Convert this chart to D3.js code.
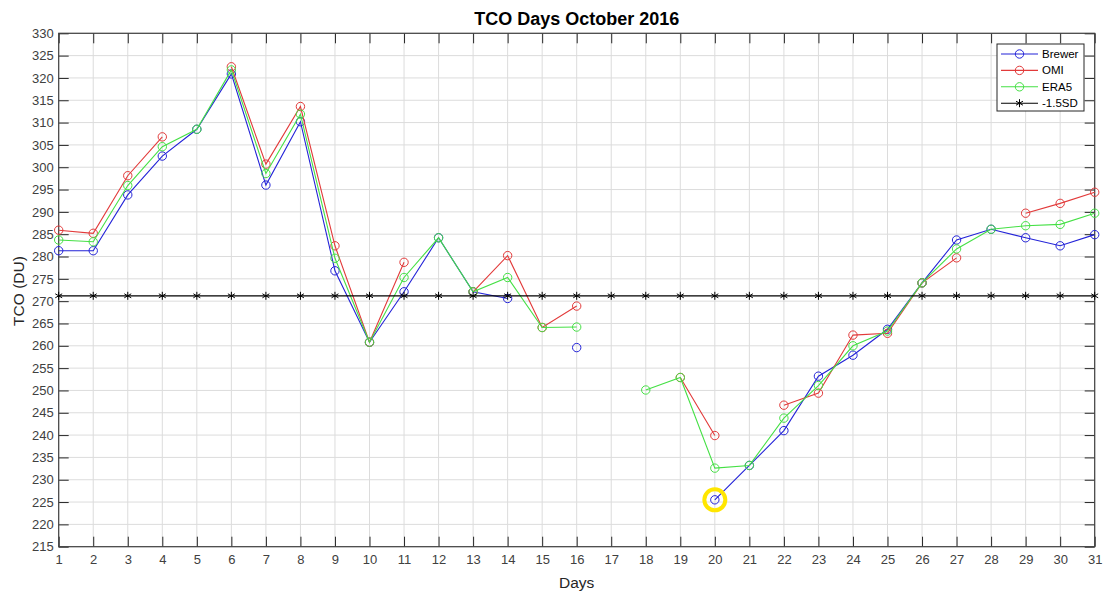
<!DOCTYPE html>
<html>
<head>
<meta charset="utf-8">
<script src="https://cdn.jsdelivr.net/npm/d3@7"></script>
<style>
  body { margin: 0; background: #fff; }
  svg text { font-family: "Liberation Sans", Arial, sans-serif; }
</style>
</head>
<body>
<script>
//Chart data (null = no measurement that day)
var days = d3.range(1, 32);
var brewer = [281.3, 281.3, 293.8, 302.5, 308.5, 320.9, 296.0, 310.2, 276.8, 260.8,
              272.1, 284.2, 272.1, 270.6, null, 259.6, null, null, null, 225.5,
              233.2, 241.0, 253.2, 257.9, 263.7, 274.1, 283.7, 286.1, 284.2, 282.4, 284.9];
var omi = [285.9, 285.2, 298.1, 306.8, null, 322.5, 300.7, 313.6, 282.4, 260.8,
           278.7, null, 272.1, 280.2, 264.1, 268.9, null, null, 252.9, 239.9,
           null, 246.7, 249.4, 262.4, 262.8, 274.1, 279.7, null, 289.7, 291.9, 294.4];
var era5 = [283.7, 283.3, 295.9, 304.6, 308.5, 321.8, 298.6, 311.9, 279.6, 260.8,
            275.3, 284.2, 272.1, 275.3, 264.1, 264.2, null, 250.1, 252.9, 232.6,
            233.2, 243.8, 251.1, 260.0, 263.3, 274.1, 281.7, 286.1, 286.9, 287.2, 289.7];
var sdLevel = 271.2;
var yTicks = d3.range(215, 331, 5);
var highlightDay = 20;

var seriesNames = ["Brewer", "OMI", "ERA5", "-1.5SD"];
var seriesColors = ["#2323d8", "#e23a3a", "#45e045", "#000000"];

//Define Margin
var margin = {left: 58.7, right: 9.3, top: 33.3, bottom: 45.3},
    width = 1104 - margin.left - margin.right,
    height = 592 - margin.top - margin.bottom;

var svg = d3.select("body")
    .append("svg")
    .attr("width", 1104)
    .attr("height", 592);

var g = svg.append("g")
    .attr("transform", "translate(" + margin.left + "," + margin.top + ")");

//Scales
var x = d3.scaleLinear().domain([1, 31]).range([0, width]);
var y = d3.scaleLinear().domain([215, 330]).range([height, 0]);

//Grid
g.append("g")
    .attr("class", "grid")
    .selectAll("line.v")
    .data(days)
    .enter().append("line")
    .attr("x1", function(d) { return x(d); })
    .attr("x2", function(d) { return x(d); })
    .attr("y1", 0)
    .attr("y2", height)
    .attr("stroke", "#dcdcdc")
    .attr("stroke-width", 1);

g.append("g")
    .attr("class", "grid")
    .selectAll("line.h")
    .data(yTicks)
    .enter().append("line")
    .attr("x1", 0)
    .attr("x2", width)
    .attr("y1", function(d) { return y(d); })
    .attr("y2", function(d) { return y(d); })
    .attr("stroke", "#dcdcdc")
    .attr("stroke-width", 1);

//Axes with inward ticks (MATLAB style)
function styleAxis(sel) {
    sel.selectAll(".domain").remove();
    sel.selectAll(".tick line").attr("stroke", "#262626");
    sel.selectAll(".tick text")
        .attr("fill", "#404040")
        .style("font-size", "13px");
}

g.append("g")
    .attr("transform", "translate(0," + height + ")")
    .call(d3.axisBottom(x).tickValues(days).tickSize(-10).tickPadding(8).tickFormat(d3.format("d")))
    .call(styleAxis);

g.append("g")
    .call(d3.axisTop(x).tickValues(days).tickSize(-10).tickFormat(""))
    .call(styleAxis);

g.append("g")
    .call(d3.axisLeft(y).tickValues(yTicks).tickSize(-10).tickPadding(5).tickFormat(d3.format("d")))
    .call(styleAxis);

g.append("g")
    .attr("transform", "translate(" + width + ",0)")
    .call(d3.axisRight(y).tickValues(yTicks).tickSize(-10).tickFormat(""))
    .call(styleAxis);

//Box
g.append("rect")
    .attr("width", width)
    .attr("height", height)
    .attr("fill", "none")
    .attr("stroke", "#404040")
    .attr("stroke-width", 1.2);

//Series lines + circle markers
var line = d3.line()
    .defined(function(d) { return d.v != null; })
    .x(function(d) { return x(d.day); })
    .y(function(d) { return y(d.v); });

[brewer, omi, era5].forEach(function(vals, i) {
    var pts = days.map(function(d, j) { return {day: d, v: vals[j]}; });
    g.append("path")
        .datum(pts)
        .attr("fill", "none")
        .attr("stroke", seriesColors[i])
        .attr("stroke-width", 1.1)
        .attr("d", line);
    g.append("g")
        .selectAll("circle")
        .data(pts.filter(function(d) { return d.v != null; }))
        .enter().append("circle")
        .attr("cx", function(d) { return x(d.day); })
        .attr("cy", function(d) { return y(d.v); })
        .attr("r", 4.2)
        .attr("fill", "none")
        .attr("stroke", seriesColors[i])
        .attr("stroke-width", 1);
});

//Asterisk marker
function star(sel, cx, cy, s) {
    [90, 30, -30].forEach(function(a) {
        var r = a * Math.PI / 180;
        sel.append("line")
            .attr("x1", cx - s * Math.cos(r)).attr("y1", cy - s * Math.sin(r))
            .attr("x2", cx + s * Math.cos(r)).attr("y2", cy + s * Math.sin(r))
            .attr("stroke", "#000")
            .attr("stroke-width", 1);
    });
}

//-1.5SD line
g.append("line")
    .attr("x1", x(1))
    .attr("x2", x(31))
    .attr("y1", y(sdLevel))
    .attr("y2", y(sdLevel))
    .attr("stroke", "#000")
    .attr("stroke-width", 1.3);

var stars = g.append("g");
days.forEach(function(d) { star(stars, x(d), y(sdLevel), 4); });

//Yellow highlight on the lowest Brewer value
g.append("circle")
    .attr("cx", x(highlightDay))
    .attr("cy", y(brewer[highlightDay - 1]))
    .attr("r", 10.5)
    .attr("fill", "none")
    .attr("stroke", "#ffe600")
    .attr("stroke-width", 4);

//Title and axis labels
svg.append("text")
    .attr("x", margin.left + width / 2)
    .attr("y", 25)
    .attr("text-anchor", "middle")
    .attr("font-weight", "bold")
    .style("font-size", "18px")
    .attr("fill", "#000")
    .text("TCO Days October 2016");

svg.append("text")
    .attr("x", margin.left + width / 2)
    .attr("y", 588)
    .attr("text-anchor", "middle")
    .style("font-size", "15.5px")
    .attr("fill", "#262626")
    .text("Days");

svg.append("text")
    .attr("transform", "translate(24," + (margin.top + height / 2 + 1) + ") rotate(-90)")
    .attr("text-anchor", "middle")
    .style("font-size", "15.5px")
    .attr("fill", "#262626")
    .text("TCO (DU)");

//Legend
var legend = svg.append("g")
    .attr("transform", "translate(997,44)");

legend.append("rect")
    .attr("width", 87)
    .attr("height", 67)
    .attr("fill", "#fff")
    .attr("stroke", "#262626")
    .attr("stroke-width", 1);

seriesNames.forEach(function(name, i) {
    var ly = 10 + i * 16.4;
    legend.append("line")
        .attr("x1", 4).attr("x2", 41)
        .attr("y1", ly).attr("y2", ly)
        .attr("stroke", seriesColors[i])
        .attr("stroke-width", 1.1);
    if (i < 3) {
        legend.append("circle")
            .attr("cx", 22.5).attr("cy", ly)
            .attr("r", 4.2)
            .attr("fill", "none")
            .attr("stroke", seriesColors[i]);
    } else {
        star(legend, 22.5, ly, 4);
    }
    legend.append("text")
        .attr("x", 45)
        .attr("y", ly + 4)
        .style("font-size", "11.5px")
        .attr("fill", "#000")
        .text(name);
});
</script>
</body>
</html>
